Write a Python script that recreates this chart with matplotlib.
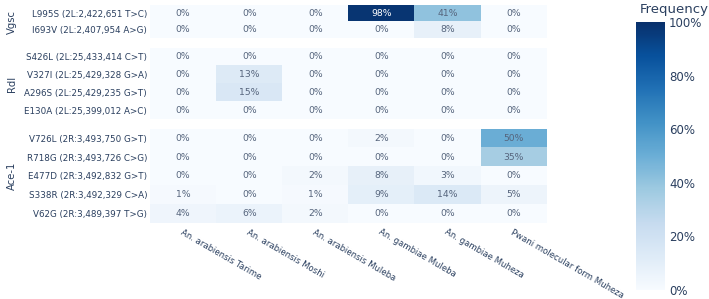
import numpy as np
import matplotlib
matplotlib.use('Agg')
import matplotlib.pyplot as plt
from matplotlib.ticker import FuncFormatter

# Data (percent frequency).
populations = ['An. arabiensis Tarime', 'An. arabiensis Moshi', 'An. arabiensis Muleba',
               'An. gambiae Muleba', 'An. gambiae Muheza', 'Pwani molecular form Muheza']

vgsc_labels = ['L995S (2L:2,422,651 T>C)', 'I693V (2L:2,407,954 A>G)']
vgsc_freq = [[0, 0, 0, 98, 41, 0],
             [0, 0, 0, 0, 8, 0]]

rdl_labels = ['S426L (2L:25,433,414 C>T)', 'V327I (2L:25,429,328 G>A)',
              'A296S (2L:25,429,235 G>T)', 'E130A (2L:25,399,012 A>C)']
rdl_freq = [[0, 0, 0, 0, 0, 0],
            [0, 13, 0, 0, 0, 0],
            [0, 15, 0, 0, 0, 0],
            [0, 0, 0, 0, 0, 0]]

ace_labels = ['V726L (2R:3,493,750 G>T)', 'R718G (2R:3,493,726 C>G)',
              'E477D (2R:3,492,832 G>T)', 'S338R (2R:3,492,329 C>A)',
              'V62G (2R:3,489,397 T>G)']
ace_freq = [[0, 0, 0, 2, 0, 50],
            [0, 0, 0, 0, 0, 35],
            [0, 0, 2, 8, 3, 0],
            [1, 0, 1, 9, 14, 5],
            [4, 6, 2, 0, 0, 0]]

genes = ['Vgsc', 'Rdl', 'Ace-1']

plt.rcParams['font.family'] = 'DejaVu Sans'
label_color = '#2a3f5f'
cell_color = '#56657d'

W, H = 709, 299
fig = plt.figure(figsize=(W / 100, H / 100), dpi=100)

# panel boxes in pixels (top, bottom)
boxes = [(5, 38), (48, 119), (129, 223)]
x0, x1 = 150, 547
groups = [(vgsc_labels, vgsc_freq), (rdl_labels, rdl_freq), (ace_labels, ace_freq)]

im = None
for (top, bot), (labels, freq), gene in zip(boxes, groups, genes):
    ax = fig.add_axes([x0 / W, 1 - bot / H, (x1 - x0) / W, (bot - top) / H])
    data = np.array(freq, dtype=float)
    im = ax.imshow(data, cmap='Blues', vmin=0, vmax=100, aspect='auto',
                   interpolation='nearest')
    for i in range(data.shape[0]):
        for j in range(data.shape[1]):
            c = 'white' if data[i, j] > 70 else cell_color
            ax.text(j, i, '%d%%' % data[i, j], ha='center', va='center',
                    fontsize=6.7, color=c)
    ax.set_yticks(range(len(labels)))
    ax.set_yticklabels(labels, fontsize=6.3, color=label_color)
    ax.set_xticks([])
    ax.tick_params(length=0, pad=2)
    for s in ax.spines.values():
        s.set_visible(False)
    fig.text(12 / W, 1 - (top + bot) / 2 / H, gene, rotation=90, ha='center',
             va='center', fontsize=7.2, color=label_color)
    last_ax = ax

# rotated population labels under the last panel
for j, name in enumerate(populations):
    last_ax.text(j, 4.75, name, rotation=-30, rotation_mode='anchor',
                 ha='left', va='top', fontsize=6.1, color=label_color,
                 transform=last_ax.transData, clip_on=False)

# colour bar
cax = fig.add_axes([636 / W, 1 - 290 / H, 29 / W, 268 / H])
cb = fig.colorbar(im, cax=cax)
cb.outline.set_visible(False)
cb.set_ticks([0, 20, 40, 60, 80, 100])
cb.ax.yaxis.set_major_formatter(FuncFormatter(lambda v, p: '%d%%' % v))
cb.ax.tick_params(length=0, pad=3, labelsize=8.5, labelcolor=label_color)
fig.text(640 / W, 1 - 10 / H, 'Frequency', ha='left', va='center',
         fontsize=9.5, color=label_color)

fig.savefig('out.png', dpi=100)
